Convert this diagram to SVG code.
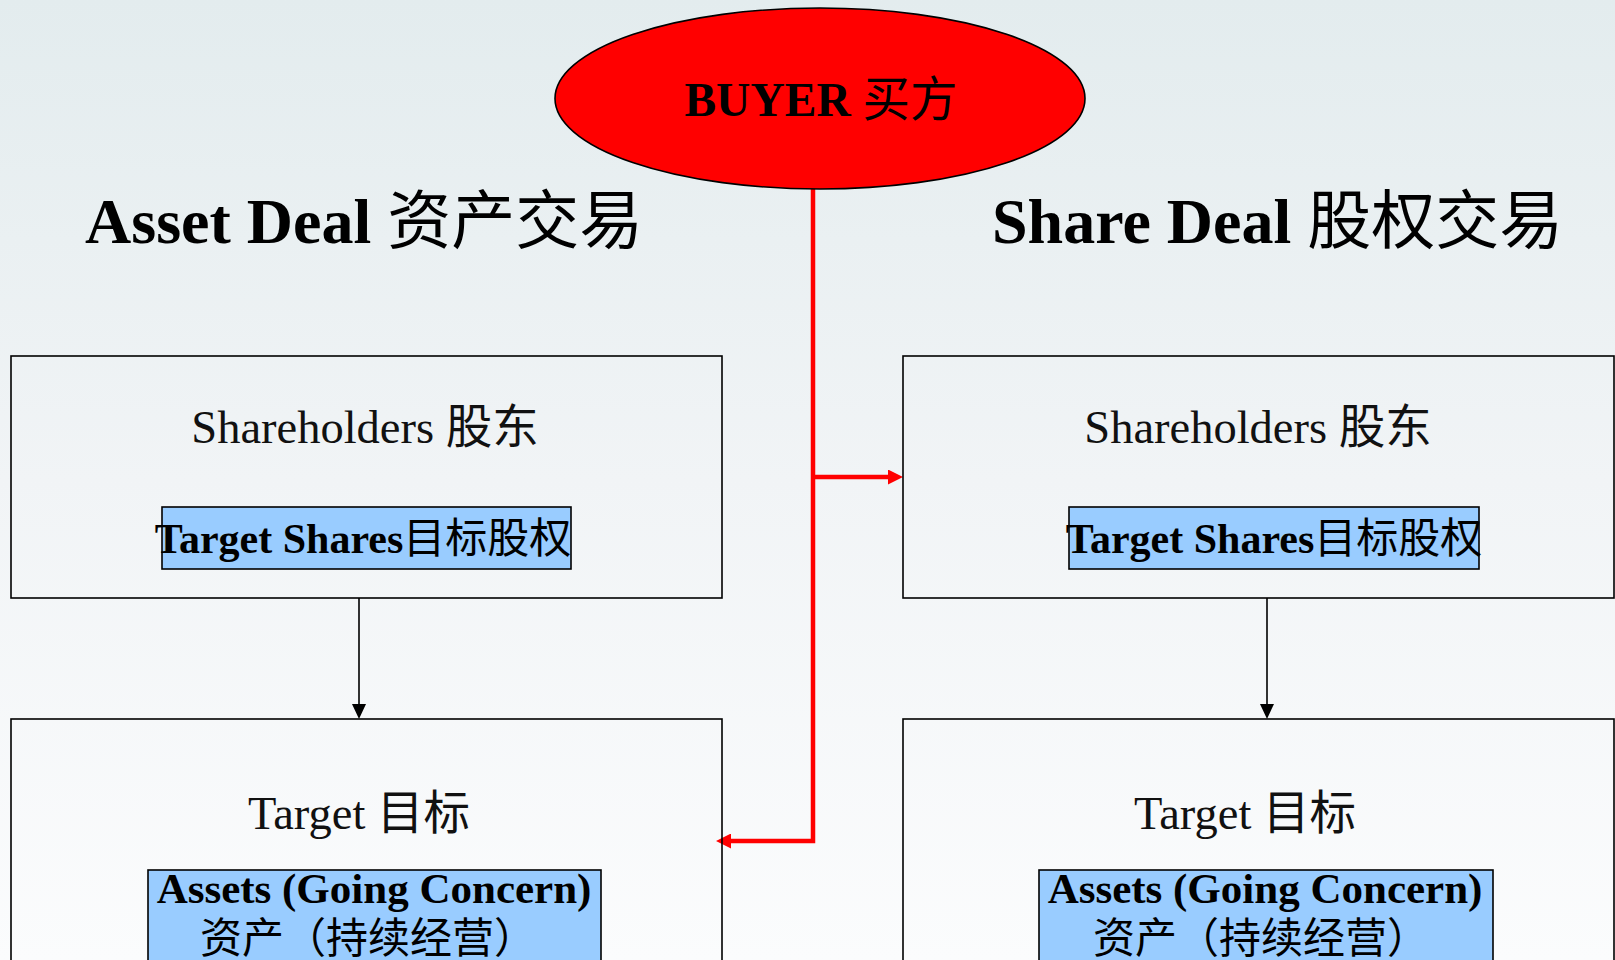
<svg xmlns="http://www.w3.org/2000/svg" width="1615" height="960" viewBox="0 0 1615 960">
<defs>
<linearGradient id="bg" x1="0" y1="0" x2="0" y2="1">
<stop offset="0" stop-color="#E3ECEE"/>
<stop offset="0.5" stop-color="#F1F4F6"/>
<stop offset="1" stop-color="#FBFCFD"/>
</linearGradient>
<marker id="redArrow" markerUnits="userSpaceOnUse" viewBox="0 0 15 15" markerWidth="15" markerHeight="15" refX="3" refY="7.5" orient="auto">
<path d="M0,0 L15,7.5 L0,15 z" fill="#FF0000"/>
</marker>
<marker id="blackArrow" markerUnits="userSpaceOnUse" viewBox="0 0 15 14" markerWidth="15" markerHeight="14" refX="8" refY="7" orient="auto">
<path d="M0,0 L15,7 L0,14 z" fill="#000"/>
</marker>
</defs>
<style>
.box{fill:none;stroke:#000;stroke-width:1.6}
.blue{fill:#99CCFF;stroke:#000;stroke-width:1.6}
.lbl{font-family:"Liberation Serif","Noto Sans CJK SC",serif;font-size:46.5px;fill:#111;text-anchor:middle}
.blbl{font-family:"Liberation Serif","Noto Sans CJK SC",serif;font-size:42px;font-weight:bold;fill:#000;text-anchor:middle}
.cjk{font-family:"Noto Sans CJK SC",serif;font-weight:normal}
.title{font-family:"Liberation Serif","Noto Sans CJK SC",serif;font-size:64px;font-weight:bold;fill:#000}
.red{fill:none;stroke:#FF0000;stroke-width:4.5}
.blk{fill:none;stroke:#000;stroke-width:1.6}
</style>
<rect x="0" y="0" width="1615" height="960" fill="url(#bg)"/>

<g id="title-asset">
<text class="title" x="85" y="243">Asset Deal <tspan class="cjk">资产交易</tspan></text>
</g>
<g id="title-share">
<text class="title" x="992" y="243">Share Deal <tspan class="cjk">股权交易</tspan></text>
</g>

<g id="connectors">
<path class="red" d="M813,189 V841 H728" marker-end="url(#redArrow)"/>
<path class="red" d="M813,477 H891" marker-end="url(#redArrow)"/>
<path class="blk" d="M359,598 V712" marker-end="url(#blackArrow)"/>
<path class="blk" d="M1267,598 V712" marker-end="url(#blackArrow)"/>
</g>

<g id="buyer">
<ellipse cx="820" cy="98.5" rx="265" ry="90.5" fill="#FF0000" stroke="#000" stroke-width="1.6"/>
<text class="blbl" x="821" y="116" style="font-size:47.5px">BUYER <tspan class="cjk">买方</tspan></text>
</g>

<g id="asset-shareholders">
<rect class="box" x="11" y="356" width="711" height="242"/>
<text class="lbl" x="365" y="443">Shareholders <tspan class="cjk">股东</tspan></text>
<rect class="blue" x="162" y="507" width="409" height="62"/>
<text class="blbl" x="363" y="553">Target Shares<tspan class="cjk">目标股权</tspan></text>
</g>

<g id="asset-target">
<rect class="box" x="11" y="719" width="711" height="260"/>
<text class="lbl" x="359" y="829">Target <tspan class="cjk">目标</tspan></text>
<rect class="blue" x="148" y="870" width="453" height="110"/>
<text class="blbl"><tspan x="374" y="903" style="font-size:43px">Assets (Going Concern)</tspan><tspan class="cjk" x="368" y="953">资产（持续经营）</tspan></text>
</g>

<g id="share-shareholders">
<rect class="box" x="903" y="356" width="711" height="242"/>
<text class="lbl" x="1258" y="443">Shareholders <tspan class="cjk">股东</tspan></text>
<rect class="blue" x="1069" y="507" width="410" height="62"/>
<text class="blbl" x="1274" y="553">Target Shares<tspan class="cjk">目标股权</tspan></text>
</g>

<g id="share-target">
<rect class="box" x="903" y="719" width="711" height="260"/>
<text class="lbl" x="1245" y="829">Target <tspan class="cjk">目标</tspan></text>
<rect class="blue" x="1039" y="870" width="454" height="110"/>
<text class="blbl"><tspan x="1265" y="903" style="font-size:43px">Assets (Going Concern)</tspan><tspan class="cjk" x="1261" y="953">资产（持续经营）</tspan></text>
</g>
</svg>
